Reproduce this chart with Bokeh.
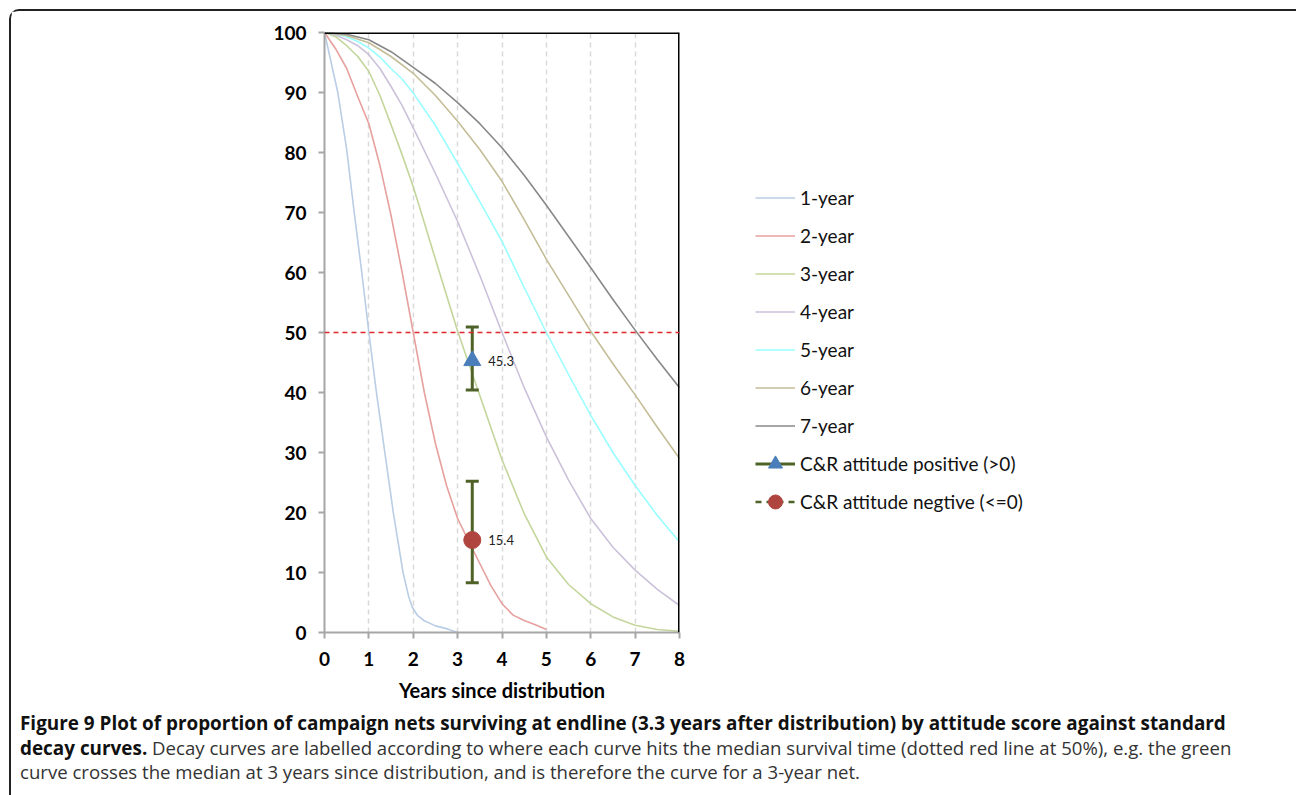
from bokeh.plotting import figure
from bokeh.models import Legend, LegendItem, Span, Div, FixedTicker, Range1d
from bokeh.layouts import column
from bokeh.embed import file_html
from bokeh.resources import INLINE
from bokeh.core.properties import value

# ---------------- data ----------------
SERIES_NAMES = ["1-year", "2-year", "3-year", "4-year", "5-year", "6-year", "7-year"]

t_1yr = [0, 0.15, 0.3, 0.5, 0.67, 0.84, 1.0, 1.17, 1.36, 1.55, 1.77, 1.9, 1.98, 2.1, 2.24, 2.5, 2.77, 3.0]
v_1yr = [100, 95, 90, 80.5, 70, 60, 50, 40, 30, 20, 10, 5.9, 4.2, 2.8, 2.0, 1.1, 0.6, 0]

t_2yr = [0, 0.25, 0.5, 0.75, 1.0, 1.25, 1.5, 1.75, 2.0, 2.25, 2.5, 2.75, 3.0, 3.25, 3.5, 3.75, 4.0, 4.25, 4.5, 4.75, 5.0]
v_2yr = [100, 97.3, 94.0, 89.3, 84.8, 77.8, 69.5, 60, 50, 40, 31.5, 24.5, 19.0, 15.2, 11.5, 7.8, 4.8, 2.9, 2.0, 1.3, 0.5]

t_3yr = [0, 0.25, 0.5, 0.75, 1, 1.25, 1.5, 1.75, 2, 2.25, 2.5, 3, 3.5, 4, 4.5, 5, 5.5, 6, 6.5, 7, 7.5, 8]
v_3yr = [100, 99.3, 97.8, 96.0, 93.5, 89.5, 84.6, 79.6, 74.3, 68.3, 62.2, 50.2, 39.5, 28.8, 19.8, 12.6, 8.0, 4.8, 2.6, 1.2, 0.5, 0.2]

t_4yr = [0, 0.25, 0.5, 0.75, 1, 1.25, 1.5, 1.75, 2, 2.5, 3, 3.5, 4, 4.5, 5, 5.5, 6, 6.5, 7, 7.5, 8]
v_4yr = [100, 99.6, 98.8, 97.8, 96.3, 94.0, 91.0, 87.8, 84.1, 76.5, 68.5, 59.5, 50.0, 40.8, 32.6, 25.4, 19.0, 14.2, 10.4, 7.2, 4.5]

t_5yr = [0, 0.25, 0.5, 0.75, 1, 1.25, 1.5, 1.75, 2, 2.5, 3, 3.5, 4, 4.5, 5, 5.5, 6, 6.5, 7, 7.5, 8]
v_5yr = [100, 99.8, 99.3, 98.5, 97.4, 95.9, 94.0, 92.2, 89.9, 84.5, 78.2, 71.8, 65.2, 57.5, 50.0, 43.0, 36.2, 30.0, 24.5, 19.5, 15.1]

t_6yr = [0, 0.5, 1, 1.5, 2, 2.5, 3, 3.5, 4, 4.5, 5, 5.5, 6, 6.5, 7, 7.5, 8]
v_6yr = [100, 99.5, 98.3, 96.0, 93.2, 89.5, 85.2, 80.5, 75.2, 68.8, 62.2, 56.2, 50.2, 44.8, 39.6, 34.2, 29.0]

t_7yr = [0, 0.5, 1, 1.5, 2, 2.5, 3, 3.5, 4, 4.5, 5, 5.5, 6, 6.5, 7, 7.5, 8]
v_7yr = [100, 99.7, 98.8, 96.8, 94.2, 91.5, 88.3, 84.8, 80.8, 76.2, 71.2, 66.0, 60.8, 55.5, 50.4, 45.5, 40.8]

SERIES_T = [t_1yr, t_2yr, t_3yr, t_4yr, t_5yr, t_6yr, t_7yr]
SERIES_V = [v_1yr, v_2yr, v_3yr, v_4yr, v_5yr, v_6yr, v_7yr]
SERIES_COLORS = ["#B9CDE5", "#E6A09E", "#C3D69B", "#CCC1DA", "#99FFFF", "#C4BD97", "#888888"]

MEDIAN = 50

GROUP_NAMES = ["C&R attitude positive (>0)", "C&R attitude negtive (<=0)"]
GROUP_X = [3.33, 3.33]
GROUP_Y = [45.3, 15.4]
GROUP_LOW = [40.4, 8.3]
GROUP_HIGH = [50.9, 25.2]

X_TICKS = [0, 1, 2, 3, 4, 5, 6, 7, 8]
Y_TICKS = [0, 10, 20, 30, 40, 50, 60, 70, 80, 90, 100]
X_MIN, X_MAX = 0, 8
Y_MIN, Y_MAX = 0, 100

FONT = "Lato"
OLIVE = "#4F6228"

# ---------------- figure ----------------
p = figure(frame_width=355, frame_height=600,
           x_range=Range1d(X_MIN, X_MAX), y_range=Range1d(Y_MIN, Y_MAX),
           output_backend="svg", toolbar_location=None,
           min_border_left=313, min_border_right=10, min_border_top=21, min_border_bottom=74)
p.outline_line_color = None
p.background_fill_color = "white"
p.border_fill_color = "white"

for ax, ticks in ((p.xaxis, X_TICKS), (p.yaxis, Y_TICKS)):
    ax.ticker = FixedTicker(ticks=ticks)
    ax.axis_line_color = "#A6A6A6"
    ax.axis_line_width = 2
    ax.major_tick_line_color = "#A6A6A6"
    ax.major_tick_line_width = 2
    ax.major_tick_out = 6
    ax.major_tick_in = 0
    ax.minor_tick_line_color = None
    ax.major_label_text_font = FONT
    ax.major_label_text_font_style = "bold"
    ax.major_label_text_font_size = "19px"
    ax.major_label_text_color = "black"

p.yaxis.major_label_standoff = 12
p.xaxis.major_label_standoff = 13
p.xaxis.axis_label = "Years since distribution"
p.xaxis.axis_label_text_font = FONT
p.xaxis.axis_label_text_font_style = "bold"
p.xaxis.axis_label_text_font_size = "20px"
p.xaxis.axis_label_text_color = "black"
p.xaxis.axis_label_standoff = 9

# black top and right borders of the plot area
p.add_layout(Span(location=Y_MAX, dimension="width", line_color="black", line_width=3))
p.add_layout(Span(location=X_MAX, dimension="height", line_color="black", line_width=3))

p.ygrid.grid_line_color = None
p.xgrid.grid_line_color = "#D9D9D9"
p.xgrid.grid_line_dash = "5 4"
p.xgrid.grid_line_width = 1.5

items = []
for name, ts, vs, col in zip(SERIES_NAMES, SERIES_T, SERIES_V, SERIES_COLORS):
    r = p.line(ts, vs, line_color=col, line_width=1.6, line_join="round")
    items.append(LegendItem(label=name, renderers=[r]))

p.add_layout(Span(location=MEDIAN, dimension="width", line_color="#E0262B",
                  line_dash="5 4", line_width=1.6))

# error bars
p.segment(x0=GROUP_X, y0=GROUP_LOW, x1=GROUP_X, y1=GROUP_HIGH, line_color=OLIVE, line_width=3)
p.scatter(x=GROUP_X + GROUP_X, y=GROUP_LOW + GROUP_HIGH, marker="dash", size=13,
          line_color=OLIVE, line_width=3)

pos_line = p.line(x=[GROUP_X[0]], y=[GROUP_Y[0]], line_color=OLIVE, line_width=3)
pos_mark = p.scatter(x=[GROUP_X[0]], y=[GROUP_Y[0]], marker="triangle", size=17,
                     fill_color="#4A7EBB", line_color="#4A7EBB")
neg_line = p.line(x=[GROUP_X[1]], y=[GROUP_Y[1]], line_color=OLIVE, line_width=2.5, line_dash="6 5")
neg_mark = p.scatter(x=[GROUP_X[1]], y=[GROUP_Y[1]], marker="circle", size=17,
                     fill_color="#B0453F", line_color="#B0453F")
items.append(LegendItem(label=GROUP_NAMES[0], renderers=[pos_line, pos_mark]))
items.append(LegendItem(label=GROUP_NAMES[1], renderers=[neg_line, neg_mark]))

p.text(x=GROUP_X, y=GROUP_Y, text=[f"{v:.1f}" for v in GROUP_Y], x_offset=16,
       text_baseline="middle", text_align="left", text_font=value(FONT),
       text_font_size="13px", text_color="#222222")

legend = Legend(items=items, location=(76, 113), padding=0, margin=0,
                border_line_alpha=0, background_fill_alpha=0,
                glyph_width=40, glyph_height=35, label_height=20, spacing=3,
                label_standoff=5, label_text_font=FONT, label_text_font_size="19px",
                label_text_color="#111111")
p.add_layout(legend, "right")

caption = (
    '<div style="font-family: \'Open Sans\', sans-serif; '
    'font-size:18.6px; line-height:24.6px; color:#333333; white-space:nowrap; padding-left:4px;">'
    '<b style="color:#111111; font-size:18.9px">Figure 9 Plot of proportion of campaign nets surviving at endline '
    '(3.3 years after distribution) by attitude score against standard</b><br>'
    '<b style="color:#111111; font-size:18.9px">decay curves.</b> Decay curves are labelled according to where each '
    'curve hits the median survival time (dotted red line at 50%), e.g. the green<br>'
    'curve crosses the median at 3 years since distribution, and is therefore the curve for a 3-year net.'
    '</div>'
)
div = Div(text=caption, width=1280, height=92)

layout = column(p, div, margin=(9, 0, 0, 9),
                styles={"border": "2px solid #222222", "border-radius": "10px",
                        "background-color": "white"})

open("out.html", "w").write(file_html(layout, INLINE))
